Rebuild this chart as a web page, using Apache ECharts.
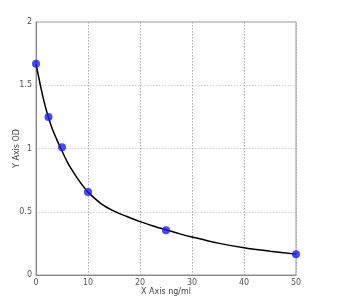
<!DOCTYPE html>
<html><head><meta charset="utf-8">
<script src="https://cdn.jsdelivr.net/npm/echarts@6/dist/echarts.min.js"></script>
<style>html,body{margin:0;padding:0;background:#fff}#c{width:341px;height:306px}</style>
</head><body><div id="c"></div>
<script>
var pointX = [0, 2.4, 5, 10, 25, 50];
var pointY = [1.67, 1.25, 1.01, 0.656, 0.354, 0.165];
var curveX = [0, 1, 2, 3, 4, 5, 6, 7, 8, 9, 10, 12.5, 15, 17.5, 20, 22.5, 25, 27.5, 30, 35, 40, 45, 50];
var curveY = [1.67, 1.47, 1.30, 1.17, 1.07, 0.98, 0.895, 0.825, 0.762, 0.706, 0.655, 0.565, 0.505, 0.462, 0.422, 0.388, 0.357, 0.327, 0.30, 0.252, 0.215, 0.188, 0.165];
var xTicks = [0, 10, 20, 30, 40, 50];
var yTicks = [0, 0.5, 1, 1.5, 2];
var xName = 'X Axis ng/ml';
var yName = 'Y Axis OD';

var chart = echarts.init(document.getElementById('c'));
var lbl = {color: '#555', fontSize: 8, fontFamily: 'DejaVu Sans'};
chart.setOption({
  animation: false,
  grid: {left: 36, right: 45, top: 22, bottom: 31, show: true, borderColor: '#999', borderWidth: 1, backgroundColor: 'transparent', containLabel: false, outerBoundsMode: 'none'},
  xAxis: {
    type: 'value', min: xTicks[0], max: xTicks[xTicks.length-1], interval: 10,
    name: xName, nameLocation: 'middle', nameGap: 13, nameMoveOverlap: false,
    nameTextStyle: {color: '#444', fontSize: 8, fontFamily: 'DejaVu Sans'},
    axisLine: {show: true, lineStyle: {color: '#888'}},
    axisTick: {show: false},
    axisLabel: Object.assign({margin: 4}, lbl),
    splitLine: {show: true, lineStyle: {color: '#aaa', type: [1.5, 1.5], width: 1}}
  },
  yAxis: {
    type: 'value', min: yTicks[0], max: yTicks[yTicks.length-1], interval: 0.5,
    name: yName, nameLocation: 'middle', nameGap: 15, nameRotate: 90, nameMoveOverlap: false,
    nameTextStyle: {color: '#444', fontSize: 8, fontFamily: 'DejaVu Sans'},
    axisLine: {show: true, lineStyle: {color: '#888'}},
    axisTick: {show: false},
    axisLabel: Object.assign({margin: 4}, lbl),
    splitLine: {show: true, lineStyle: {color: '#ccc', type: [1.5, 1.5], width: 1}}
  },
  series: [
    {type: 'line', smooth: 0.3, symbol: 'none', data: curveX.map(function(x, i){return [x, curveY[i]];}),
     lineStyle: {color: '#000', width: 1.5}, z: 2},
    {type: 'scatter', symbol: 'circle', symbolSize: 8, data: pointX.map(function(x, i){return [x, pointY[i]];}),
     itemStyle: {color: '#1a1aff'}, z: 3}
  ]
});
</script></body></html>
